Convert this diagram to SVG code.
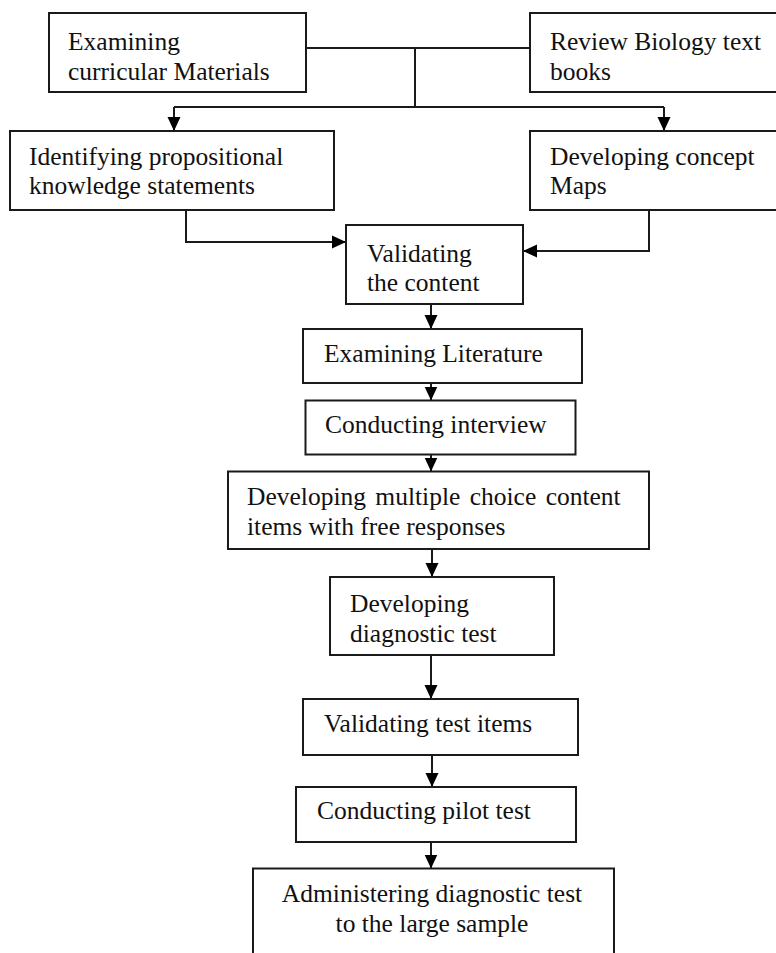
<svg xmlns="http://www.w3.org/2000/svg" width="776" height="953" viewBox="0 0 776 953">
<style>
  .box { fill: #ffffff; stroke: #1a1a1a; stroke-width: 2; }
  .lbl { font-family: "Liberation Serif", "Times New Roman", serif; font-size: 25.5px; fill: #111111; }
  .mid { text-anchor: middle; }
  .conn { fill: none; stroke: #1a1a1a; stroke-width: 2; }
  .arr { marker-end: url(#ah); }
</style>
<defs>
  <marker id="ah" markerUnits="userSpaceOnUse" markerWidth="14" markerHeight="14" viewBox="0 0 14 14" refX="14" refY="7" orient="auto">
    <path d="M0,0.5 L14,7 L0,13.5 Z" fill="#000000"/>
  </marker>
</defs>
<rect x="0" y="0" width="776" height="953" fill="#ffffff"/>

<g id="connectors">
  <path class="conn" d="M306,48 H530"/>
  <path class="conn" d="M415,48 V107"/>
  <path class="conn" d="M174,107 H664"/>
  <path class="conn arr" d="M174,107 V131"/>
  <path class="conn arr" d="M664,107 V131"/>
  <path class="conn arr" d="M186,202 V242 H346"/>
  <path class="conn arr" d="M649,202 V251 H523"/>
  <path class="conn arr" d="M431,297 V329"/>
  <path class="conn arr" d="M431,375 V400.5"/>
  <path class="conn arr" d="M431,443 V471.5"/>
  <path class="conn arr" d="M432,547 V577"/>
  <path class="conn arr" d="M431,655 V699"/>
  <path class="conn arr" d="M432,743 V787"/>
  <path class="conn arr" d="M431,830 V868.5"/>
</g>

<g id="n1">
  <rect class="box" x="49" y="13" width="257" height="79"/>
  <text class="lbl" x="68" y="50">Examining</text>
  <text class="lbl" x="68" y="80">curricular Materials</text>
</g>
<g id="n2">
  <rect class="box" x="530" y="13" width="250" height="79"/>
  <text class="lbl" x="550" y="50">Review Biology text</text>
  <text class="lbl" x="550" y="80">books</text>
</g>
<g id="n3">
  <rect class="box" x="10" y="131" width="324" height="79"/>
  <text class="lbl" x="29" y="165">Identifying propositional</text>
  <text class="lbl" x="29" y="194">knowledge statements</text>
</g>
<g id="n4">
  <rect class="box" x="530" y="131" width="250" height="79"/>
  <text class="lbl" x="550" y="165">Developing concept</text>
  <text class="lbl" x="550" y="194">Maps</text>
</g>
<g id="n5">
  <rect class="box" x="346" y="225" width="177" height="79"/>
  <text class="lbl" x="367" y="262">Validating</text>
  <text class="lbl" x="367" y="291">the content</text>
</g>
<g id="n6">
  <rect class="box" x="303" y="329" width="279" height="54"/>
  <text class="lbl" x="324" y="362">Examining Literature</text>
</g>
<g id="n7">
  <rect class="box" x="305.5" y="400.5" width="270" height="54"/>
  <text class="lbl" x="325" y="433">Conducting interview</text>
</g>
<g id="n8">
  <rect class="box" x="228" y="471.5" width="421" height="77.5"/>
  <text class="lbl" x="247" y="505" word-spacing="3">Developing multiple choice content</text>
  <text class="lbl" x="247" y="535">items with free responses</text>
</g>
<g id="n9">
  <rect class="box" x="330" y="577" width="224" height="78"/>
  <text class="lbl" x="350" y="612">Developing</text>
  <text class="lbl" x="350" y="642">diagnostic test</text>
</g>
<g id="n10">
  <rect class="box" x="303" y="699" width="275" height="56"/>
  <text class="lbl" x="324" y="732">Validating test items</text>
</g>
<g id="n11">
  <rect class="box" x="296" y="787" width="280" height="55"/>
  <text class="lbl" x="317" y="819">Conducting pilot test</text>
</g>
<g id="n12">
  <rect class="box" x="253" y="868.5" width="361" height="100"/>
  <text class="lbl mid" x="432" y="902">Administering diagnostic test</text>
  <text class="lbl mid" x="432" y="932">to the large sample</text>
</g>
</svg>
